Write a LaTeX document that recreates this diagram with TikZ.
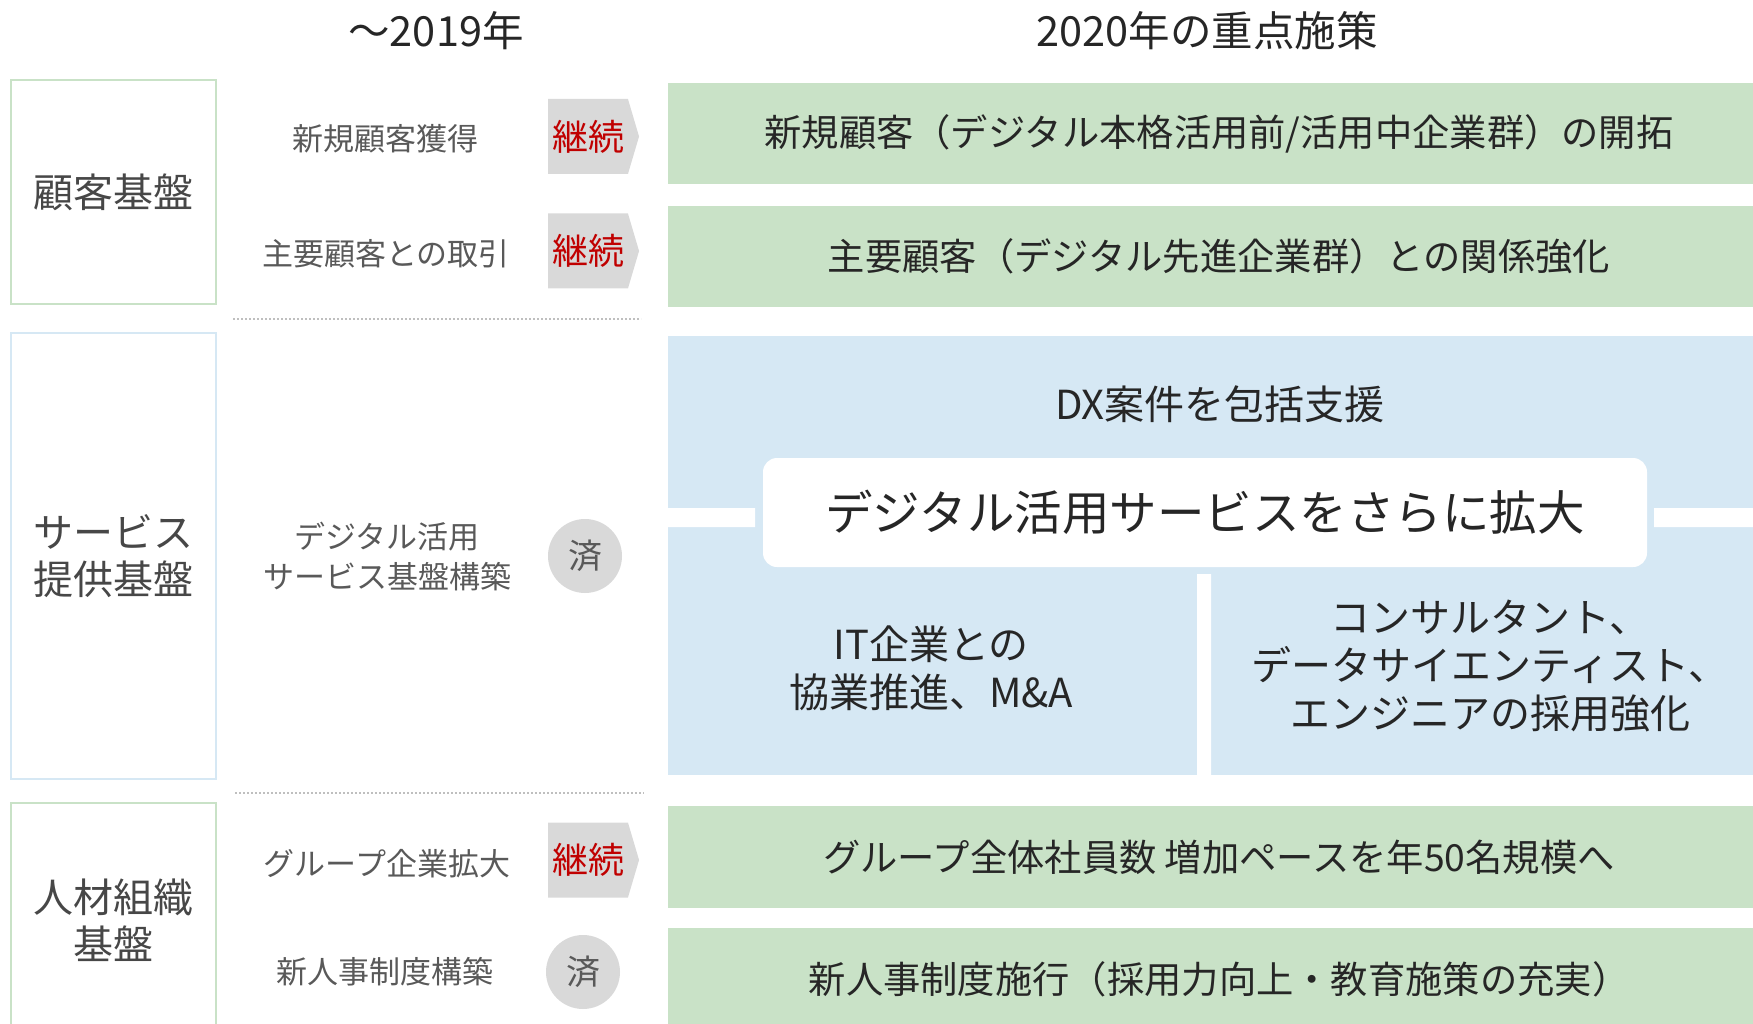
\documentclass[tikz,border=0pt]{standalone}
\usepackage{fontspec}
\setmainfont{Noto Sans CJK JP}
\usetikzlibrary{shapes.symbols}
\definecolor{bandgreen}{HTML}{C9E2C7}
\definecolor{bandblue}{HTML}{D6E8F4}
\definecolor{taggrey}{HTML}{D9D9D9}
\definecolor{tagred}{HTML}{C00000}
\definecolor{inkdark}{HTML}{262626}
\definecolor{inkgrey}{HTML}{595959}
\definecolor{dotgrey}{HTML}{BFBFBF}

\begin{document}
\begin{tikzpicture}[x=1pt,y=-1pt,
  every node/.style={inner sep=0pt,outer sep=0pt},
  heading/.style={font=\fontsize{41.5}{48}\selectfont,text=inkdark},
  areabox/.style={draw=#1,line width=2.5pt,minimum width=205pt,align=center,
    font=\fontsize{40}{47}\selectfont,text=inkgrey!80!black},
  oldtask/.style={align=center,font=\fontsize{31}{40}\selectfont,text=inkgrey},
  keepon/.style={signal,signal to=east,signal pointer angle=147,fill=taggrey,
    minimum width=91pt,minimum height=75pt,font=\fontsize{36}{36}\selectfont,text=tagred},
  finished/.style={circle,fill=taggrey,minimum size=74pt,
    font=\fontsize{34}{34}\selectfont,text=inkgrey},
  band/.style={fill=bandgreen,minimum width=1102pt,
    font=\fontsize{37.3}{44}\selectfont,text=inkdark},
  hubbox/.style={fill=white,rounded corners=14pt,minimum width=884pt,
    minimum height=109pt,font=\fontsize{47.5}{52}\selectfont,text=inkdark},
  bluetext/.style={align=center,font=\fontsize{40}{48}\selectfont,text=inkdark},
  divider/.style={dotgrey,line width=2pt,dash pattern=on 2pt off 2pt}
]
\useasboundingbox (0,0) rectangle (1753,1024);

% headings
\node[heading] (past) at (436,31) {～2019年};
\node[heading] (plan) at (1207,31) {2020年の重点施策};

% left column
\node[areabox=bandgreen,minimum height=224pt] (cust) at (113.5,192) {顧客基盤};
\node[areabox=bandblue,minimum height=446pt] (serv) at (113.5,556) {サービス\\提供基盤};
\node[areabox=bandgreen,minimum height=234pt] (staff) at (113.5,920) {人材組織\\基盤};

% up to 2019
\node[oldtask] (newcust) at (385,139) {新規顧客獲得};
\node[oldtask] (keycust) at (386,254) {主要顧客との取引};
\node[oldtask] (platform) at (387,557) {デジタル活用\\サービス基盤構築};
\node[oldtask] (group) at (387,864) {グループ企業拡大};
\node[oldtask] (hrsys) at (385,972) {新人事制度構築};

\node[keepon] (tag1) at (588,136.5) {継続};
\node[keepon] (tag2) at (588,251) {継続};
\node[finished] (done3) at (585,556) {済};
\node[keepon] (tag4) at (588,860) {継続};
\node[finished] (done5) at (583,972) {済};

\draw[divider] (233,319) -- (641,319);
\draw[divider] (235,793) -- (644,793);

% 2020 plans
\node[band,minimum height=101pt] (plan1) at (1219,133.5)
  {新規顧客（デジタル本格活用前/活用中企業群）の開拓};
\node[band,minimum height=101pt] (plan2) at (1219,256.5)
  {主要顧客（デジタル先進企業群）との関係強化};
\node[band,minimum height=102pt] (plan4) at (1219,857)
  {グループ全体社員数 増加ペースを年50名規模へ};
\node[band,minimum height=102pt] (plan5) at (1219,979)
  {新人事制度施行（採用力向上・教育施策の充実）};

\fill[bandblue] (668,336) rectangle (1770,775);
\fill[white] (668,508) rectangle (755,527)
  (1654,508) rectangle (1770,527)
  (1197,574) rectangle (1211,775);
\node[hubbox] (hub) at (1205,512.5) {デジタル活用サービスをさらに拡大};
\node[bluetext,font=\fontsize{40}{46}\selectfont] (dx) at (1220,404) {DX案件を包括支援};
\node[bluetext] (partner) at (931,668) {IT企業との\\協業推進、M\&A};
\node[bluetext] (talent) at (1490,666)
  {コンサルタント、\\データサイエンティスト、\\エンジニアの採用強化};
\end{tikzpicture}
\end{document}
